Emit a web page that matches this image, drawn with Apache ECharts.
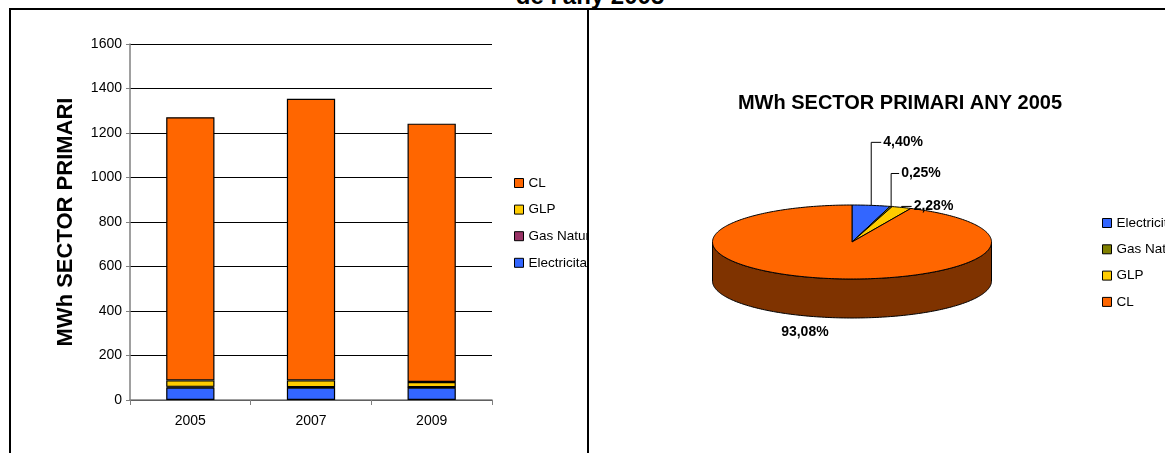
<!DOCTYPE html>
<html>
<head>
<meta charset="utf-8">
<script src="https://cdn.jsdelivr.net/npm/echarts@6/dist/echarts.min.js"></script>
<style>
  html, body { margin: 0; padding: 0; background: #fff; width: 1165px; height: 453px; overflow: hidden; position: relative; }
  #title { position: absolute; left: 0; width: 1180px; top: -16px; text-align: center; font: bold 24px 'Liberation Sans', Arial, sans-serif; line-height: 24px; color: #000; }
  #left { position: absolute; left: 11px; top: 10px; width: 576px; height: 443px; overflow: hidden; }
  #right { position: absolute; left: 589px; top: 10px; width: 576px; height: 443px; overflow: hidden; }
  .ln { position: absolute; background: #000; }
</style>
</head>
<body>
<div id="title">de l'any 2005</div>
<div class="ln" style="left:9px; top:8px; width:1160px; height:2px;"></div>
<div class="ln" style="left:9px; top:8px; width:2px; height:460px;"></div>
<div class="ln" style="left:587px; top:8px; width:2px; height:460px;"></div>
<div id="left"></div>
<div id="right"></div>
<script>
// ---------- data ----------
const years = ['2005', '2007', '2009'];
const electricitat = [56, 56, 56];
const gasNatural = [3, 1, 1];
const glp = [29, 31, 24];
const cl = [1183, 1266, 1161];
const yTicks = { min: 0, max: 1600, interval: 200 };

const pieNames = ['Electricitat', 'Gas Natural', 'GLP', 'CL'];
const pieValues = [4.40, 0.25, 2.28, 93.08];
const pieLabels = ['4,40%', '0,25%', '2,28%', '93,08%'];

// ---------- styles ----------
const FONT = "'Liberation Sans', Arial, sans-serif";
const barColors = { CL: '#FF6600', GLP: '#FFCC00', 'Gas Natural': '#993366', Electricitat: '#3366FF' };
const pieColors = ['#3366FF', '#808000', '#FFCC00', '#FF6600'];
const sideColor = '#7F3300';

// ---------- bar chart ----------
const left = echarts.init(document.getElementById('left'), null, { renderer: 'canvas' });
function barSeries(name, data) {
  return {
    name: name, type: 'bar', stack: 'total', data: data, barWidth: '40%',
    itemStyle: { color: barColors[name], borderColor: '#000', borderWidth: 1.2 },
    emphasis: { disabled: true }
  };
}
left.setOption({
  animation: false,
  textStyle: { fontFamily: FONT },
  grid: { left: 119, top: 34, width: 362, height: 356, containLabel: false },
  legend: {
    orient: 'vertical', left: 503, top: 166, padding: 0,
    itemWidth: 9, itemHeight: 9, itemGap: 12.6,
    icon: 'rect',
    itemStyle: { borderColor: '#000', borderWidth: 1 },
    textStyle: { fontSize: 13.5, color: '#000', lineHeight: 14 },
    data: ['CL', 'GLP', 'Gas Natural', 'Electricitat']
  },
  xAxis: {
    type: 'category', data: years, boundaryGap: true,
    axisLine: { lineStyle: { color: '#808080', width: 1.5 } },
    axisTick: { show: true, length: 5, alignWithLabel: false, lineStyle: { color: '#808080' } },
    axisLabel: { fontSize: 14, color: '#000', margin: 14, fontFamily: FONT }
  },
  yAxis: {
    type: 'value', min: yTicks.min, max: yTicks.max, interval: yTicks.interval,
    name: 'MWh SECTOR PRIMARI', nameLocation: 'middle', nameRotate: 90, nameGap: 53,
    nameTextStyle: { fontSize: 22, fontWeight: 'bold', color: '#000', fontFamily: FONT },
    axisLine: { show: true, lineStyle: { color: '#808080', width: 1.5 } },
    axisTick: { show: true, length: 4, inside: false, lineStyle: { color: '#808080' } },
    axisLabel: { fontSize: 14, color: '#000', margin: 8, fontFamily: FONT, formatter: v => String(v) },
    splitLine: { show: true, lineStyle: { color: '#000', width: 1 } }
  },
  series: [
    barSeries('Electricitat', electricitat),
    barSeries('Gas Natural', gasNatural),
    barSeries('GLP', glp),
    barSeries('CL', cl)
  ]
});

// ---------- 3D pie (custom) ----------
const right = echarts.init(document.getElementById('right'), null, { renderer: 'canvas' });
const PIE = { cx: 263, cy: 232, rx: 139.5, ry: 37, depth: 39 };
// label placement relative to the slice anchor point (layout only)
const labelLayout = [
  { leader: true, up: 63, run: 10 },
  { leader: true, up: 33, run: 8 },
  { leader: true, up: 1, run: 10 },
  { leader: false, dx: -17, dy: 15 }
];
const pieTotal = pieValues.reduce((a, b) => a + b, 0);

function pt(a, dy) {
  return [PIE.cx + PIE.rx * Math.sin(a), PIE.cy - PIE.ry * Math.cos(a) + (dy || 0)];
}
function arcPts(a0, a1, dy) {
  const pts = [];
  const n = Math.max(2, Math.ceil(Math.abs(a1 - a0) / 0.02));
  for (let k = 0; k <= n; k++) pts.push(pt(a0 + (a1 - a0) * k / n, dy));
  return pts;
}

function makeSliceRender(i) {
  return function (params, api) {
    const v = api.value(0);
    let start = 0;
    for (let j = 0; j < i; j++) start += pieValues[j];
    const a0 = start / pieTotal * Math.PI * 2;
    const a1 = (start + v) / pieTotal * Math.PI * 2;
    const color = api.visual('color');
    const children = [];
    const s0 = Math.max(a0, Math.PI / 2), s1 = Math.min(a1, Math.PI * 1.5);
    if (s1 > s0) {
      const pts = arcPts(s0, s1, 0).concat(arcPts(s1, s0, PIE.depth));
      children.push({
        type: 'polygon', z2: 1, shape: { points: pts },
        style: { fill: sideColor, stroke: '#000', lineWidth: 1 }
      });
    }
    const topPts = [[PIE.cx, PIE.cy]].concat(arcPts(a0, a1, 0));
    children.push({
      type: 'polygon', z2: 5, shape: { points: topPts },
      style: { fill: color, stroke: '#000', lineWidth: 1, lineJoin: 'round' }
    });
    const am = (a0 + a1) / 2;
    const L = labelLayout[i];
    const txtStyle = { fontSize: 14, fontWeight: 'bold', fill: '#000', fontFamily: FONT };
    if (L.leader) {
      const p = pt(am, 0);
      const e = [p[0], p[1] - L.up];
      const f = [e[0] + L.run, e[1]];
      children.push({
        type: 'polyline', z2: 6, shape: { points: [p, e, f] },
        style: { stroke: '#000', lineWidth: 1, fill: null }
      });
      children.push({
        type: 'text', z2: 7, x: f[0] + 2, y: f[1],
        style: Object.assign({ text: pieLabels[i], align: 'left', verticalAlign: 'middle' }, txtStyle)
      });
    } else {
      const p = pt(am, PIE.depth);
      children.push({
        type: 'text', z2: 7, x: p[0] + L.dx, y: p[1] + L.dy,
        style: Object.assign({ text: pieLabels[i], align: 'center', verticalAlign: 'middle' }, txtStyle)
      });
    }
    return { type: 'group', children: children };
  };
}

right.setOption({
  animation: false,
  textStyle: { fontFamily: FONT },
  graphic: [{
    type: 'text', x: 311, y: 93,
    style: { text: 'MWh SECTOR PRIMARI ANY 2005', fontSize: 20, fontWeight: 'bold', fill: '#000', fontFamily: FONT, align: 'center', verticalAlign: 'middle' }
  }],
  legend: {
    orient: 'vertical', left: 513, top: 206, padding: 0,
    itemWidth: 9, itemHeight: 9, itemGap: 12.3,
    icon: 'rect',
    itemStyle: { borderColor: '#000', borderWidth: 1 },
    textStyle: { fontSize: 13.5, color: '#000', lineHeight: 14 },
    data: pieNames
  },
  series: pieNames.map((name, i) => ({
    name: name, type: 'custom', coordinateSystem: 'none',
    itemStyle: { color: pieColors[i] },
    data: [[pieValues[i]]],
    renderItem: makeSliceRender(i),
    silent: true
  }))
});
</script>
</body>
</html>
